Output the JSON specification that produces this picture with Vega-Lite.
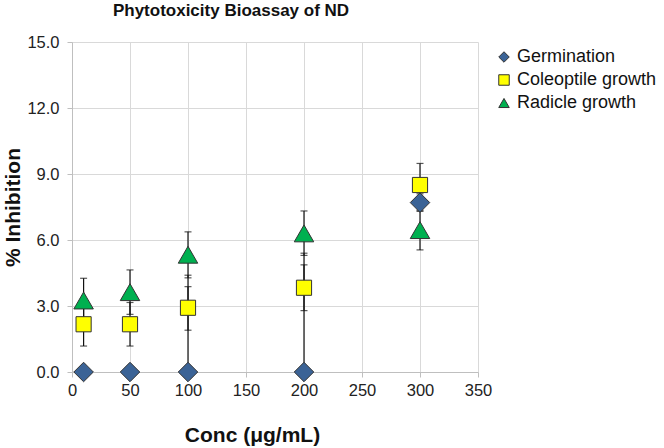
{
  "$schema": "https://vega.github.io/schema/vega-lite/v6.json",
  "autosize": "none",
  "width": 406,
  "height": 330,
  "padding": {"left": 72, "top": 42, "right": 186, "bottom": 76},
  "background": "white",
  "config": {
    "font": "Liberation Sans",
    "view": {"stroke": null},
    "axis": {"labelFont": "Liberation Sans", "labelFontSize": 16.5, "labelColor": "#222", "labelFlush": false, "labelOverlap": false, "titleFont": "Liberation Sans", "titleFontSize": 21, "titleFontWeight": "bold", "titleColor": "#111", "gridColor": "#d9d9d9", "domainColor": "#bfbfbf", "tickColor": "#bfbfbf", "tickSize": 5}
  },
  "title": {"text": "Phytotoxicity Bioassay of ND", "fontSize": 17, "fontWeight": "bold", "font": "Liberation Sans", "color": "#111", "anchor": "middle", "dx": -44, "offset": 14},
  "data": {"values": [
    {"series": "Germination", "conc": 10, "value": 0, "lo": 0, "hi": 0},
    {"series": "Germination", "conc": 50, "value": 0, "lo": 0, "hi": 0},
    {"series": "Germination", "conc": 100, "value": 0, "lo": 0, "hi": 4.4},
    {"series": "Germination", "conc": 200, "value": 0, "lo": 0, "hi": 5.4},
    {"series": "Germination", "conc": 300, "value": 7.7, "lo": 7.3, "hi": 8.1},
    {"series": "Coleoptile growth", "conc": 10, "value": 2.17, "lo": 1.18, "hi": 3.16},
    {"series": "Coleoptile growth", "conc": 50, "value": 2.17, "lo": 1.18, "hi": 3.16},
    {"series": "Coleoptile growth", "conc": 100, "value": 2.92, "lo": 1.9, "hi": 3.88},
    {"series": "Coleoptile growth", "conc": 200, "value": 3.83, "lo": 2.79, "hi": 4.87},
    {"series": "Coleoptile growth", "conc": 300, "value": 8.5, "lo": 7.5, "hi": 9.48},
    {"series": "Radicle growth", "conc": 10, "value": 3.25, "lo": 2.22, "hi": 4.26},
    {"series": "Radicle growth", "conc": 50, "value": 3.63, "lo": 2.62, "hi": 4.64},
    {"series": "Radicle growth", "conc": 100, "value": 5.33, "lo": 4.28, "hi": 6.37},
    {"series": "Radicle growth", "conc": 200, "value": 6.3, "lo": 5.3, "hi": 7.32},
    {"series": "Radicle growth", "conc": 300, "value": 6.45, "lo": 5.55, "hi": 7.35}
  ]},
  "encoding": {
    "x": {"field": "conc", "type": "quantitative", "scale": {"domain": [0, 350], "nice": false}, "axis": {"values": [0, 50, 100, 150, 200, 250, 300, 350], "title": "Conc (μg/mL)", "titleX": 180, "titlePadding": 26, "labelPadding": 5}}
  },
  "layer": [
    {
      "mark": {"type": "rule", "color": "#111", "strokeWidth": 1.2},
      "encoding": {
        "y": {"field": "lo", "type": "quantitative", "scale": {"domain": [0, 15], "nice": false}, "axis": {"values": [0, 3, 6, 9, 12, 15], "format": ".1f", "title": "% Inhibition", "titlePadding": 3, "labelPadding": 8}},
        "y2": {"field": "hi"}
      }
    },
    {
      "mark": {"type": "tick", "orient": "horizontal", "color": "#111", "size": 7, "thickness": 1.2},
      "encoding": {"y": {"field": "lo", "type": "quantitative"}}
    },
    {
      "mark": {"type": "tick", "orient": "horizontal", "color": "#111", "size": 7, "thickness": 1.2},
      "encoding": {"y": {"field": "hi", "type": "quantitative"}}
    },
    {
      "transform": [{"filter": "datum.series === 'Germination'"}],
      "mark": {"type": "point", "filled": true, "opacity": 1, "stroke": "#333", "strokeWidth": 1, "size": 380},
      "encoding": {
        "y": {"field": "value", "type": "quantitative"},
        "color": {"field": "series", "type": "nominal", "scale": {"domain": ["Germination", "Coleoptile growth", "Radicle growth"], "range": ["#3B6396", "#FFFF00", "#00B050"]}, "legend": {"title": null, "orient": "none", "legendX": 423, "legendY": 6, "labelFontSize": 18, "labelFont": "Liberation Sans", "labelColor": "#111", "symbolSize": 110, "symbolStrokeWidth": 1, "rowPadding": 5, "labelOffset": 4, "symbolStrokeColor": "#333"}},
        "shape": {"field": "series", "type": "nominal", "scale": {"domain": ["Germination", "Coleoptile growth", "Radicle growth"], "range": ["diamond", "square", "triangle-up"]}}
      }
    },
    {
      "transform": [{"filter": "datum.series === 'Coleoptile growth'"}],
      "mark": {"type": "point", "filled": true, "opacity": 1, "stroke": "#333", "strokeWidth": 1, "size": 230},
      "encoding": {
        "y": {"field": "value", "type": "quantitative"},
        "color": {"field": "series", "type": "nominal"},
        "shape": {"field": "series", "type": "nominal"}
      }
    },
    {
      "transform": [{"filter": "datum.series === 'Radicle growth'"}],
      "mark": {"type": "point", "filled": true, "opacity": 1, "stroke": "#333", "strokeWidth": 1, "size": 380},
      "encoding": {
        "y": {"field": "value", "type": "quantitative"},
        "color": {"field": "series", "type": "nominal"},
        "shape": {"field": "series", "type": "nominal"}
      }
    }
  ]
}
